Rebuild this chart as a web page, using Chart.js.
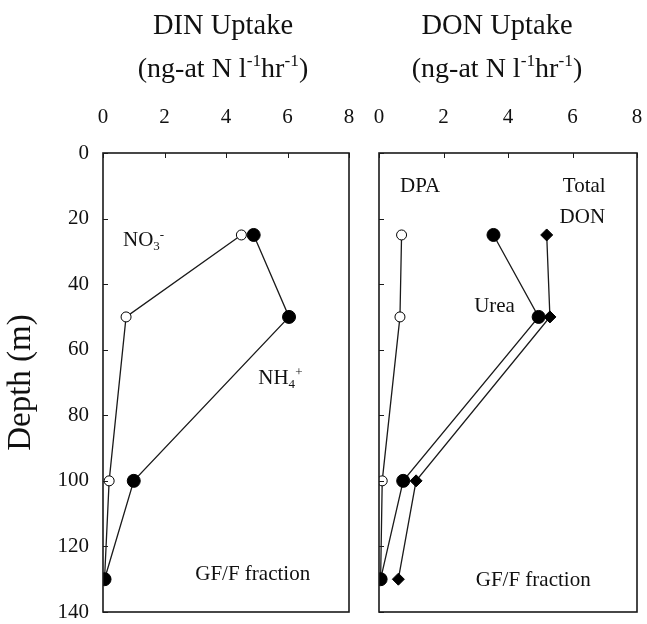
<!DOCTYPE html>
<html>
<head>
<meta charset="utf-8">
<script src="https://cdn.jsdelivr.net/npm/chart.js@4"></script>
<style>
  body { margin: 0; background: #fff; }
  #wrap { position: relative; width: 647px; height: 624px; }
  canvas { position: absolute; top: 0; }
</style>
</head>
<body>
<div id="wrap">
  <canvas id="dinChart" width="365" height="624" style="left:0"></canvas>
  <canvas id="donChart" width="282" height="624" style="left:365px"></canvas>
</div>
<script>
// Depth of each sample (m)
const depths = [25, 50, 100, 130];
// Uptake rates (ng-at N l-1 hr-1)
const no3 = [4.5, 0.75, 0.2, 0.05];
const nh4 = [4.9, 6.05, 1.0, 0.05];
const dpa = [0.7, 0.65, 0.1, 0.05];
const urea = [3.55, 4.95, 0.75, 0.05];
const totalDon = [5.2, 5.3, 1.15, 0.6];
const uptakeTicks = [0, 2, 4, 6, 8];
const depthTicks = [0, 20, 40, 60, 80, 100, 120, 140];

const SERIF = '"Liberation Serif", "Times New Roman", serif';
const INK = '#1a1a1a';

const toPoints = vals => vals.map((v, i) => ({ x: v, y: depths[i] }));

// draws text with sub/superscripts: parts = [[text, 'sup'|'sub'|null], ...]
function drawRich(ctx, parts, x, y, size, align) {
    ctx.save();
    ctx.textBaseline = 'alphabetic';
    ctx.fillStyle = '#111';
    let total = 0;
    parts.forEach(([t, k]) => {
        ctx.font = (k ? size * 0.62 : size) + 'px ' + SERIF;
        total += ctx.measureText(t).width;
    });
    let cx = align === 'center' ? x - total / 2 : x;
    parts.forEach(([t, k]) => {
        ctx.font = (k ? size * 0.62 : size) + 'px ' + SERIF;
        const dy = k === 'sup' ? -size * 0.38 : (k === 'sub' ? size * 0.18 : 0);
        ctx.textAlign = 'left';
        ctx.fillText(t, cx, y + dy);
        cx += ctx.measureText(t).width;
    });
    ctx.restore();
}

// frame, inward ticks, title and labels
const panelPlugin = {
    id: 'panel',
    afterDraw(chart, args, opts) {
        const { ctx, chartArea: a, scales } = chart;
        ctx.save();
        ctx.strokeStyle = INK;
        ctx.lineWidth = 1.6;
        ctx.strokeRect(a.left, a.top, a.right - a.left, a.bottom - a.top);
        ctx.lineWidth = 1;
        ctx.beginPath();
        uptakeTicks.forEach(v => {
            const px = Math.round(scales.x.getPixelForValue(v)) + 0.5;
            ctx.moveTo(px, a.top);
            ctx.lineTo(px, a.top + 5);
        });
        depthTicks.forEach(v => {
            const py = Math.round(scales.y.getPixelForValue(v)) + 0.5;
            ctx.moveTo(a.left, py);
            ctx.lineTo(a.left + 5, py);
        });
        ctx.stroke();
        ctx.restore();

        const cx = opts.titleX;
        drawRich(ctx, [[opts.title, null]], cx, 34, 28.5, 'center');
        drawRich(ctx, [['(ng-at N l', null], ['-1', 'sup'], ['hr', null], ['-1', 'sup'], [')', null]], cx, 77, 28, 'center');

        opts.labels.forEach(l => {
            const px = scales.x.getPixelForValue(l.x);
            const py = scales.y.getPixelForValue(l.y);
            drawRich(ctx, l.parts, px, py, 21, 'left');
        });
    }
};

function makeOptions(left, panel) {
    return {
        responsive: false,
        animation: false,
        layout: { padding: { top: 90, bottom: 12, left: 0, right: left ? 16 : 10 } },
        plugins: { legend: { display: false }, tooltip: { enabled: false }, panel: panel },
        scales: {
            x: {
                type: 'linear', position: 'top', min: 0, max: 8,
                afterFit: s => { s.height = 63; s.paddingLeft = 0; s.paddingRight = 0; },
                afterBuildTicks: s => { s.ticks = uptakeTicks.map(v => ({ value: v })); },
                grid: { display: false, drawTicks: false },
                border: { display: false },
                ticks: { padding: 23, color: '#111', font: { family: SERIF, size: 21 } }
            },
            y: {
                type: 'linear', reverse: true, min: 0, max: 140,
                afterFit: s => { s.width = left ? 103 : 14; s.paddingTop = 0; s.paddingBottom = 0; },
                afterBuildTicks: s => { s.ticks = depthTicks.map(v => ({ value: v })); },
                grid: { display: false, drawTicks: false },
                border: { display: false },
                ticks: { display: left, padding: 14, color: '#111', font: { family: SERIF, size: 21 } },
                title: {
                    display: left, text: 'Depth (m)', color: '#111',
                    font: { family: SERIF, size: 33 }, padding: { top: 2, bottom: 0 }
                }
            }
        }
    };
}

function series(label, vals, style, radius, filled) {
    return {
        label: label,
        data: toPoints(vals),
        showLine: true,
        borderColor: INK,
        borderWidth: 1.3,
        pointStyle: style,
        pointRadius: radius,
        pointBorderColor: '#000',
        pointBorderWidth: 1,
        pointBackgroundColor: filled ? '#000' : '#fff'
    };
}

new Chart(document.getElementById('dinChart'), {
    type: 'scatter',
    data: {
        datasets: [
            series('NH4+', nh4, 'circle', 6.5, true),
            series('NO3-', no3, 'circle', 5, false)
        ]
    },
    options: makeOptions(true, {
        title: 'DIN Uptake', titleX: 223,
        labels: [
            { x: 0.65, y: 28.5, parts: [['NO', null], ['3', 'sub'], ['-', 'sup']] },
            { x: 5.05, y: 70.5, parts: [['NH', null], ['4', 'sub'], ['+', 'sup']] },
            { x: 3.0, y: 130.2, parts: [['GF/F fraction', null]] }
        ]
    }),
    plugins: [panelPlugin]
});

new Chart(document.getElementById('donChart'), {
    type: 'scatter',
    data: {
        datasets: [
            series('Urea', urea, 'circle', 6.5, true),
            series('Total DON', totalDon, 'rectRot', 6, true),
            series('DPA', dpa, 'circle', 5, false)
        ]
    },
    options: makeOptions(false, {
        title: 'DON Uptake', titleX: 132,
        labels: [
            { x: 0.65, y: 12, parts: [['DPA', null]] },
            { x: 5.7, y: 12, parts: [['Total', null]] },
            { x: 5.6, y: 21.5, parts: [['DON', null]] },
            { x: 2.95, y: 48.5, parts: [['Urea', null]] },
            { x: 3.0, y: 132, parts: [['GF/F fraction', null]] }
        ]
    }),
    plugins: [panelPlugin]
});
</script>
</body>
</html>
